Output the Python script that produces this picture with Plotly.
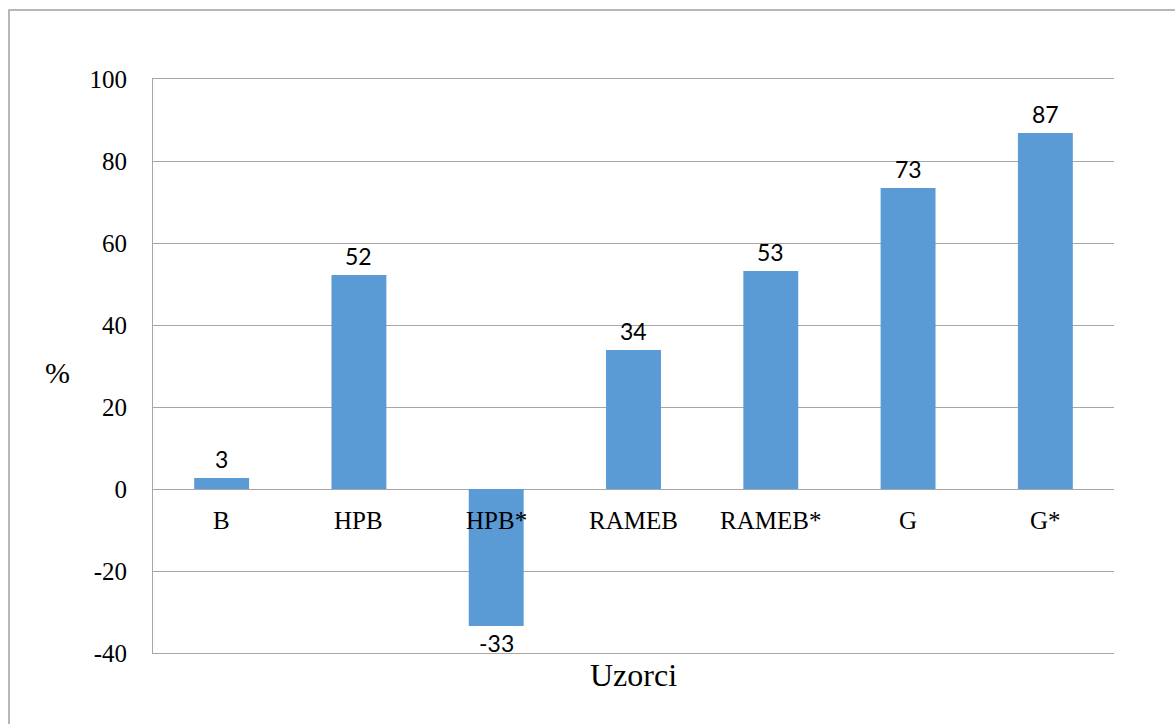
import plotly.graph_objects as go

categories = ["B", "HPB", "HPB*", "RAMEB", "RAMEB*", "G", "G*"]
values = [2.7, 52.2, -33.4, 33.9, 53.2, 73.4, 86.8]
labels = ["3", "52", "-33", "34", "53", "73", "87"]
y_ticks = [-40, -20, 0, 20, 40, 60, 80, 100]

W, H = 1175, 724
L, R, T, B = 153, 1175 - 1114, 79, 724 - 653
pw, ph = W - L - R, H - T - B

bar_color = "#5B9BD5"
grid_color = "#A6A6A6"
serif = "Liberation Serif, Times New Roman, serif"
sans = "Lato, sans-serif"

fig = go.Figure()
fig.add_trace(go.Bar(
    x=categories, y=values,
    marker=dict(color=bar_color, line=dict(width=0)),
    hoverinfo="x+y",
))

# data labels
for c, v, t in zip(categories, values, labels):
    fig.add_annotation(x=c, y=v, text=t, showarrow=False,
                       yanchor="bottom" if v >= 0 else "top",
                       yshift=3 if v >= 0 else -1,
                       font=dict(family=sans, size=23, color="#000000"))

# category labels next to the zero line
for c in categories:
    fig.add_annotation(x=c, y=0, text=c, showarrow=False, yanchor="top",
                       yshift=-16, font=dict(family=serif, size=25, color="#000000"))

fig.add_annotation(xref="paper", yref="paper", x=(57 - L) / pw, y=(H - B - 372) / ph,
                   text="%", showarrow=False, xanchor="center", yanchor="middle",
                   font=dict(family=serif, size=30, color="#000000"))

fig.add_shape(type="rect", xref="paper", yref="paper",
              x0=(9 - L) / pw, x1=(1200 - L) / pw,
              y0=(H - B - 760) / ph, y1=(H - B - 10) / ph,
              line=dict(color="#A0A0A0", width=1.5), fillcolor="rgba(0,0,0,0)", layer="below")

fig.update_layout(
    width=W, height=H, margin=dict(l=L, r=R, t=T, b=B, pad=0),
    paper_bgcolor="white", plot_bgcolor="white",
    bargap=0.6, showlegend=False,
    xaxis=dict(showticklabels=False, showgrid=False, zeroline=False,
               showline=True, mirror=True, linecolor=grid_color, linewidth=1,
               title=dict(text="Uzorci", font=dict(family=serif, size=32, color="#000000"), standoff=10)),
    yaxis=dict(range=[-40, 100], tickvals=y_ticks, ticktext=[str(v) for v in y_ticks],
               showgrid=True, gridcolor=grid_color, gridwidth=1,
               zeroline=True, zerolinecolor=grid_color, zerolinewidth=1,
               showline=True, linecolor=grid_color, linewidth=1,
               ticks="outside", ticklen=20, tickcolor="rgba(0,0,0,0)",
               tickfont=dict(family=serif, size=25, color="#000000")),
)

fig.write_html("out.html", config={"displayModeBar": False},
               post_script="document.body.style.margin='0';document.body.style.overflow='hidden';")
